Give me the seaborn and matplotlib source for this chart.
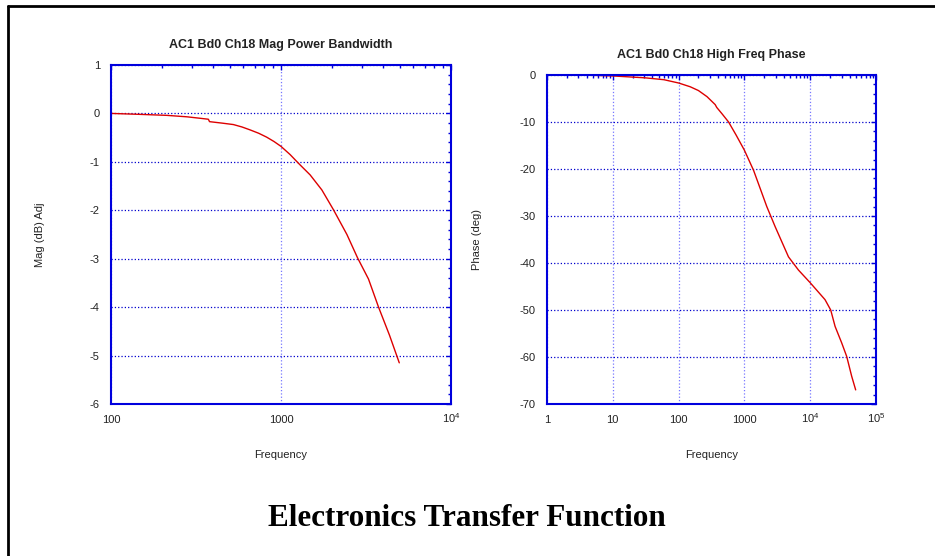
"""
Electronics transfer function: magnitude and phase vs frequency.
"""

import numpy as np
import pandas as pd
import matplotlib
matplotlib.use("Agg")
import matplotlib.pyplot as plt
from matplotlib.lines import Line2D
from matplotlib.ticker import FixedLocator, FixedFormatter, MultipleLocator, LogLocator
import seaborn as sns

# ==========================================
# DATA
# ==========================================
mag_freq = [100, 150, 213, 280, 334, 374, 380, 450, 525, 590, 658, 740, 824, 910, 1000, 1132,
            1268, 1485, 1740, 2037, 2443, 2820, 3273, 3750, 4350, 4966]
mag_db = [0.0, -0.02, -0.04, -0.07, -0.10, -0.12, -0.17, -0.20, -0.23, -0.28, -0.34, -0.41,
          -0.49, -0.58, -0.68, -0.85, -1.03, -1.27, -1.58, -1.99, -2.50, -2.98, -3.42,
          -4.00, -4.58, -5.15]

phase_freq = [5.0, 10, 31, 60, 100, 150, 200, 270, 360, 380, 460, 575, 750, 1000, 1380, 2190,
              2940, 4680, 6630, 10000, 16800, 20500, 23900, 30100, 35900, 42700, 49100]
phase_deg = [-0.07, -0.2, -0.6, -1.0, -1.7, -2.5, -3.3, -4.6, -6.3, -6.9, -8.3, -10.0,
             -12.8, -16.0, -20.3, -28.0, -32.3, -38.7, -41.5, -44.2, -47.8, -50.0, -53.5,
             -57.0, -59.9, -64.1, -67.0]

mag_xticks = [100, 1000, 10000]
mag_xticklabels = ['100', '1000', r'$\mathregular{10^4}$']
phase_xticks = [1, 10, 100, 1000, 10000, 100000]
phase_xticklabels = ['1', '10', '100', '1000', r'$\mathregular{10^4}$', r'$\mathregular{10^5}$']

df_mag = pd.DataFrame({'freq': mag_freq, 'mag': mag_db})
df_phase = pd.DataFrame({'freq': phase_freq, 'phase': phase_deg})

# ==========================================
# STYLE
# ==========================================
sns.set_theme(style="white")
plt.rcParams['font.family'] = ['Liberation Sans', 'DejaVu Sans']
plt.rcParams['mathtext.fontset'] = 'custom'
plt.rcParams['mathtext.rm'] = 'Liberation Sans'
plt.rcParams['axes.unicode_minus'] = False

BLUE = '#0000dd'
RED = '#dd0000'
TXT = '#222222'

fig = plt.figure(figsize=(9.35, 5.56), dpi=100)
fig.patch.set_facecolor('white')

ax1 = fig.add_axes([0.1187, 0.2734, 0.3636, 0.6097])
ax2 = fig.add_axes([0.585, 0.2734, 0.3519, 0.5917])


def style_axes(ax, title, ylabel, xticks, xticklabels, ylim, ymajor, yminor, ylabel_x):
    ax.set_xscale('log')
    ax.set_xlim(xticks[0], xticks[-1])
    ax.set_ylim(*ylim)
    ax.xaxis.set_major_locator(FixedLocator(xticks))
    ax.xaxis.set_major_formatter(FixedFormatter(xticklabels))
    ax.xaxis.set_minor_locator(LogLocator(base=10, subs=np.arange(2, 10), numticks=20))
    ax.yaxis.set_major_locator(MultipleLocator(ymajor))
    ax.yaxis.set_minor_locator(MultipleLocator(yminor))
    ax.set_title(title, fontsize=9, fontweight='bold', color=TXT, pad=12)
    ax.set_xlabel('Frequency', fontsize=8, color=TXT, labelpad=18)
    ax.set_ylabel(ylabel, fontsize=8, color=TXT)
    ax.yaxis.set_label_coords(ylabel_x, 0.5)
    ax.tick_params(which='both', direction='in', top=True, right=True,
                   color=BLUE, labelsize=8, labelcolor=TXT)
    ax.tick_params(which='major', length=3.5, width=1)
    ax.tick_params(which='minor', length=2, width=1)
    ax.tick_params(axis='x', pad=13.5)
    ax.tick_params(axis='y', pad=8)
    for lab in ax.get_xticklabels():
        lab.set_verticalalignment('baseline')
    for sp in ax.spines.values():
        sp.set_color(BLUE)
        sp.set_linewidth(1.5)
    ax.yaxis.grid(True, which='major', color='#0000cc', linestyle=':', linewidth=0.9)
    ax.xaxis.grid(True, which='major', color='#7777ff', linestyle=':', linewidth=0.9)
    ax.set_axisbelow(True)


# Chart A: magnitude
sns.lineplot(data=df_mag, x='freq', y='mag', color=RED, linewidth=1, ax=ax1)
style_axes(ax1, 'AC1 Bd0 Ch18 Mag Power Bandwidth', 'Mag (dB) Adj',
           mag_xticks, mag_xticklabels, (-6, 1), 1, 0.2, -0.194)

# Chart B: phase
sns.lineplot(data=df_phase, x='freq', y='phase', color=RED, linewidth=1, ax=ax2)
style_axes(ax2, 'AC1 Bd0 Ch18 High Freq Phase', 'Phase (deg)',
           phase_xticks, phase_xticklabels, (-70, 0), 10, 2, -0.198)

fig.text(0.499, 1 - 519 / 556, 'Electronics Transfer Function', ha='center', va='center',
         family=['Liberation Serif', 'DejaVu Serif'], fontweight='bold', fontsize=22.4, color='black')

# frame lines (top and left) around the slide
fig.add_artist(Line2D([7.5 / 935, 1], [1 - 5.5 / 556, 1 - 5.5 / 556], color='black', lw=2))
fig.add_artist(Line2D([7.5 / 935, 7.5 / 935], [0, 1 - 5.5 / 556], color='black', lw=2))

plt.savefig("out.png", dpi=100, facecolor='white')
